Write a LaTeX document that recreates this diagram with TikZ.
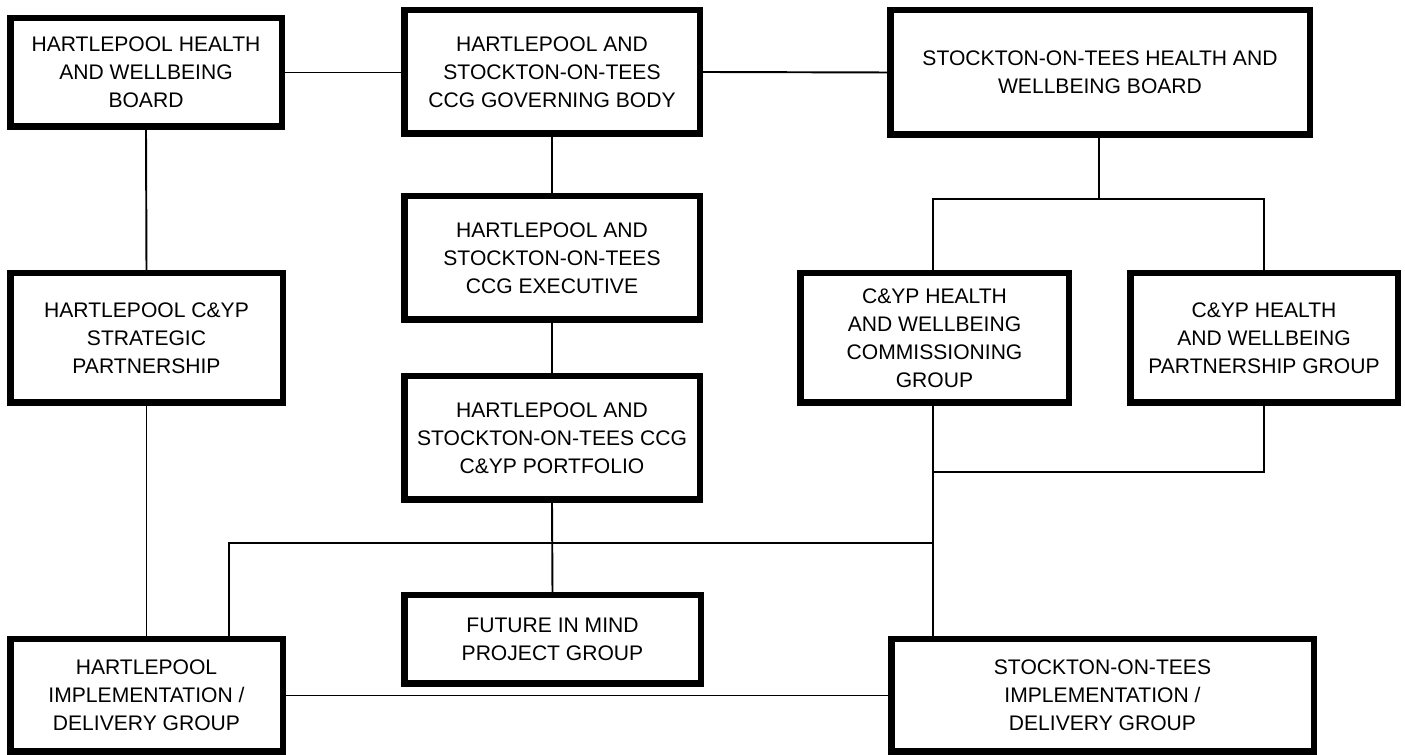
\documentclass[tikz,border=0pt]{standalone}
\usepackage{fontspec}
\setmainfont{Liberation Sans}
\usepackage{tikz}

\begin{document}
\begin{tikzpicture}[x=2cm,y=2cm,
    font=\fontsize{12}{15.9}\selectfont,
    unit/.style={draw,line width=3.7pt,inner sep=0pt,align=center,fill=white},
    link/.style={line width=1.1pt}]
    \useasboundingbox (0,0) rectangle (14.05,7.55);

    % top row
    \node[unit,minimum width=5.43cm,minimum height=2.17cm] (hwbH) at (1.46,6.825)
        {HARTLEPOOL HEALTH\\AND WELLBEING\\BOARD};
    \node[unit,minimum width=5.91cm,minimum height=2.47cm] (gov) at (5.52,6.83)
        {HARTLEPOOL AND\\STOCKTON-ON-TEES\\CCG GOVERNING BODY};
    \node[unit,minimum width=8.39cm,minimum height=2.49cm] (hwbS) at (11.00,6.825)
        {STOCKTON-ON-TEES HEALTH AND\\WELLBEING BOARD};

    % middle
    \node[unit,minimum width=5.45cm,minimum height=2.59cm] (partH) at (1.465,4.17)
        {HARTLEPOOL C\&YP\\STRATEGIC\\PARTNERSHIP};
    \node[unit,minimum width=5.91cm,minimum height=2.47cm] (exec) at (5.52,4.97)
        {HARTLEPOOL AND\\STOCKTON-ON-TEES\\CCG EXECUTIVE};
    \node[unit,minimum width=5.37cm,minimum height=2.59cm] (comm) at (9.345,4.17)
        {C\&YP HEALTH\\AND WELLBEING\\COMMISSIONING\\GROUP};
    \node[unit,minimum width=5.35cm,minimum height=2.59cm] (partS) at (12.64,4.17)
        {C\&YP HEALTH\\AND WELLBEING\\PARTNERSHIP GROUP};
    \node[unit,minimum width=5.91cm,minimum height=2.47cm] (port) at (5.52,3.17)
        {HARTLEPOOL AND\\STOCKTON-ON-TEES CCG\\C\&YP PORTFOLIO};

    % bottom row
    \node[unit,minimum width=5.93cm,minimum height=1.77cm] (fim) at (5.525,1.155)
        {FUTURE IN MIND\\PROJECT GROUP};
    \node[unit,minimum width=5.45cm,minimum height=2.25cm] (implH) at (1.465,0.595)
        {HARTLEPOOL\\IMPLEMENTATION /\\DELIVERY GROUP};
    \node[unit,minimum width=8.45cm,minimum height=2.25cm] (implS) at (11.025,0.595)
        {STOCKTON-ON-TEES\\IMPLEMENTATION /\\DELIVERY GROUP};

    \coordinate (splitS) at (10.99,5.56);
    \coordinate (joinS) at (9.33,2.83);
    \coordinate (busH) at (2.29,2.12);

    % links
    \draw[link] (hwbH.east) -- (hwbH.east -| gov.west);
    \draw[link] (gov.east) -- (hwbS.west);
    \draw[link] (hwbH.south) -- (partH.north);
    \draw[link] (partH.south) -- (implH.north);
    \draw[link] (gov.south) -- (exec.north);
    \draw[link] (exec.south) -- (port.north);
    \draw[link] (port.south) -- (fim.north);
    \draw[link] (hwbS.south -| splitS) -- (splitS);
    \draw[link] (comm.north -| joinS) |- (splitS) -| (partS.north);
    \draw[link] (comm.south -| joinS) -- (implS.north -| joinS);
    \draw[link] (partS.south) |- (joinS);
    \draw[link] (implH.north -| busH) -- (busH) -- (busH -| joinS);
    \draw[link] (implH.east) -- (implH.east -| implS.west);
\end{tikzpicture}
\end{document}
